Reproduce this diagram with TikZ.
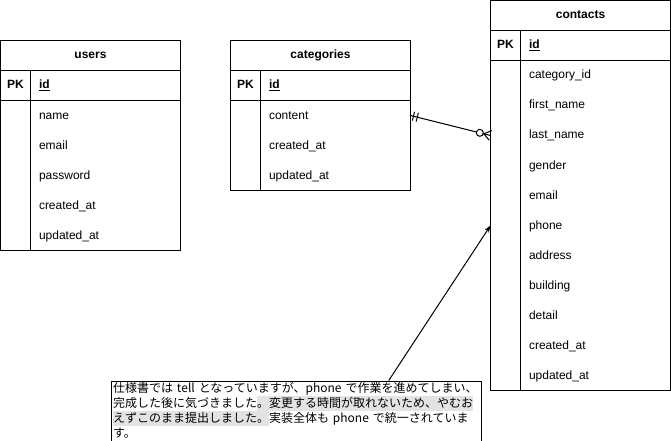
\documentclass[tikz,border=0pt]{standalone}
\usepackage{fontspec}
\setmainfont{Liberation Sans}
\newfontfamily\jpfont{Noto Sans CJK JP}
\usetikzlibrary{positioning, arrows.meta, calc}
\definecolor{hlgray}{HTML}{E3E3E3}
\newcommand{\nstrut}{\rule[-3.5pt]{0pt}{15pt}}
\setlength{\fboxsep}{0pt}

\begin{document}
\begin{tikzpicture}[
    x=1pt, y=-1pt, line width=1pt,
    every node/.style={font=\fontsize{12}{14}\selectfont, inner sep=0pt},
    tbltitle/.style={draw, outer sep=0pt, minimum width=180pt, minimum height=30pt,
      text height=9.5pt, text depth=2.5pt, font=\fontsize{12}{14}\selectfont\bfseries},
    tblkey/.style={draw, outer sep=0pt, minimum width=180pt, minimum height=30pt},
    tblbody/.style={draw, outer sep=0pt, minimum width=180pt},
    pkcell/.style={text height=9.5pt, text depth=2.5pt, font=\fontsize{12}{14}\selectfont\bfseries},
    field/.style={anchor=west, text height=9.5pt, text depth=2.5pt},
    note/.style={draw, anchor=north west, minimum width=370pt, minimum height=60pt,
      text width=366pt, inner xsep=2pt, inner ysep=0pt, align=left,
      font=\jpfont\fontsize{12}{15}\selectfont},
    >=Stealth,
  ]
  \useasboundingbox (0,0) rectangle (671,441);

  % users
  \node[tbltitle] (users) at (90.5, 55.5) {users};
  \node[tblkey, below=0pt of users] (users-key) {};
  \node[tblbody, below=0pt of users-key, minimum height=150pt] (users-body) {};
  \draw ([xshift=30pt]users-key.north west) -- ([xshift=30pt]users-body.south west);
  \node[pkcell] (users-pk) at ([xshift=15pt]users-key.west) {PK};
  \node[field, font=\fontsize{12}{14}\selectfont\bfseries] (users-id) at ([xshift=38pt]users-key.west) {\underline{id}};
  \foreach \f [count=\i] in {name, email, password, created\_at, updated\_at}
    \node[field] (users-f\i) at ([xshift=38pt, yshift=-\i*30pt]users-key.west) {\f};

  % categories
  \node[tbltitle] (categories) at (320.5, 55.5) {categories};
  \node[tblkey, below=0pt of categories] (cat-key) {};
  \node[tblbody, below=0pt of cat-key, minimum height=90pt] (cat-body) {};
  \draw ([xshift=30pt]cat-key.north west) -- ([xshift=30pt]cat-body.south west);
  \node[pkcell] (cat-pk) at ([xshift=15pt]cat-key.west) {PK};
  \node[field, font=\fontsize{12}{14}\selectfont\bfseries] (cat-id) at ([xshift=38pt]cat-key.west) {\underline{id}};
  \foreach \f [count=\i] in {content, created\_at, updated\_at}
    \node[field] (cat-f\i) at ([xshift=38pt, yshift=-\i*30pt]cat-key.west) {\f};

  % contacts
  \node[tbltitle] (contacts) at (580.5, 15.5) {contacts};
  \node[tblkey, below=0pt of contacts] (con-key) {};
  \node[tblbody, below=0pt of con-key, minimum height=330pt] (con-body) {};
  \draw ([xshift=30pt]con-key.north west) -- ([xshift=30pt]con-body.south west);
  \node[pkcell] (con-pk) at ([xshift=15pt]con-key.west) {PK};
  \node[field, font=\fontsize{12}{14}\selectfont\bfseries] (con-id) at ([xshift=38pt]con-key.west) {\underline{id}};
  \foreach \f [count=\i] in {category\_id, first\_name, last\_name, gender, email, phone,
      address, building, detail, created\_at, updated\_at}
    \node[field] (con-f\i) at ([xshift=38pt, yshift=-\i*30pt]con-key.west) {\f};

  % note
  \node[note] (note) at (110.5, 380.5) {%
    \nstrut 仕様書では tell となっていますが、phone で作業を進めてしまい、\\
    \nstrut 完成した後に気づきました\colorbox{hlgray}{\nstrut 。変更する時間が取れないため、やむお}\\
    \colorbox{hlgray}{\nstrut えずこのまま提出しました。}実装全体も phone で統一されていま\\
    \nstrut す。};

  % categories -> contacts (one / zero-to-many)
  \coordinate (er-a) at (cat-f1 -| categories.east);
  \coordinate (er-b) at (con-f3 -| contacts.west);
  \draw (er-a) -- (er-b);
  \draw ($(er-a)!3pt!(er-b)!4.5pt!90:(er-b)$) -- ($(er-a)!3pt!(er-b)!4.5pt!-90:(er-b)$);
  \draw ($(er-a)!7pt!(er-b)!4.5pt!90:(er-b)$) -- ($(er-a)!7pt!(er-b)!4.5pt!-90:(er-b)$);
  \draw ($(er-b)!5pt!90:(er-a)$) -- ($(er-b)!7pt!(er-a)$) -- ($(er-b)!5pt!-90:(er-a)$);
  \draw[fill=white] ($(er-b)!11pt!(er-a)$) circle[radius=3.5pt];

  % note -> phone
  \draw[-{Stealth[length=7pt,width=5pt]}]
    ($(note.north west)!0.75!(note.north east)$) -- (con-f6 -| contacts.west);
\end{tikzpicture}
\end{document}
